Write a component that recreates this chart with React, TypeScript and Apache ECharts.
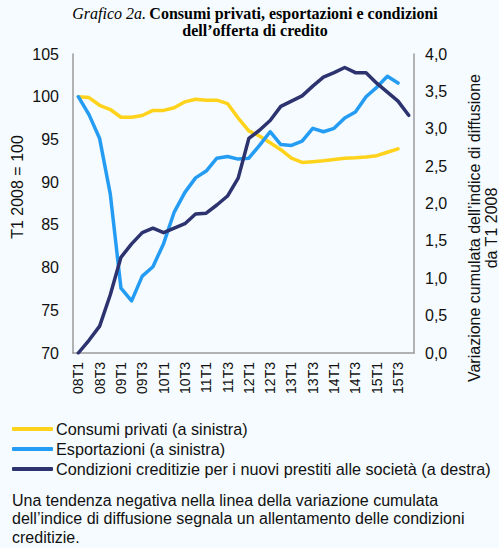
import React, { useEffect, useRef } from "react";
import * as echarts from "echarts";

const quarters: string[] = [];
for (let y = 8; y <= 15; y++) {
  for (let q = 1; q <= 4; q++) quarters.push(String(y).padStart(2, "0") + "T" + q);
}

const consumi = [100, 99.9, 99.0, 98.5, 97.6, 97.6, 97.8, 98.4, 98.4, 98.7, 99.4, 99.7, 99.6, 99.6, 99.2, 97.5,
  96.0, 95.4, 94.6, 93.8, 92.8, 92.3, 92.4, 92.5, 92.65, 92.8, 92.85, 92.95, 93.1, 93.5, 93.9, null];
const esportazioni = [100, 97.9, 95.1, 88.6, 77.6, 76.1, 79.0, 80.1, 82.8, 86.5, 88.8, 90.5, 91.3, 92.8, 93.0, 92.7,
  92.8, 94.3, 95.9, 94.4, 94.3, 94.8, 96.3, 95.9, 96.3, 97.5, 98.2, 100.0, 101.1, 102.4, 101.6, null];
const condizioni = [0, 0.17, 0.36, 0.78, 1.28, 1.46, 1.61, 1.67, 1.61, 1.67, 1.73, 1.86, 1.87, 1.98, 2.10, 2.34,
  2.87, 2.98, 3.11, 3.30, 3.37, 3.44, 3.57, 3.69, 3.75, 3.82, 3.75, 3.75, 3.61, 3.49, 3.37, 3.18];

const seriesNames = [
  "Consumi privati (a sinistra)",
  "Esportazioni (a sinistra)",
  "Condizioni creditizie per i nuovi prestiti alle società (a destra)",
];
const colors = ["#ffd31c", "#259cf4", "#2c336f"];

const SANS = "'Liberation Sans', Arial, sans-serif";
const SERIF = "'Liberation Serif', 'Times New Roman', serif";
const TXT = "#111";

export default function App() {
  const ref = useRef<HTMLDivElement>(null);
  useEffect(() => {
    if (!ref.current) return;
    const chart = echarts.init(ref.current, undefined, { renderer: "svg" });
    const axisLineStyle = { lineStyle: { color: "#9a9a9a", width: 1.5 } };
    chart.setOption({
      animation: false,
      backgroundColor: "#f5fbfe",
      textStyle: { fontFamily: SANS },
      grid: { left: 73, right: 85, top: 54, bottom: 195 },
      legend: {
        orient: "vertical",
        left: 12,
        top: 421,
        padding: 0,
        itemGap: 4,
        itemWidth: 41,
        itemHeight: 4,
        icon: "roundRect",
        data: seriesNames,
        textStyle: { fontSize: 16.2, color: TXT, fontFamily: SANS, padding: [0, 0, 0, -2] },
      },
      xAxis: {
        type: "category",
        data: quarters,
        boundaryGap: true,
        axisLine: axisLineStyle,
        axisTick: { show: false },
        axisLabel: { rotate: 90, interval: 1, fontSize: 14, color: TXT, margin: 9, fontFamily: SANS },
      },
      yAxis: [
        {
          type: "value",
          min: 70,
          max: 105,
          interval: 5,
          position: "left",
          axisLine: { show: true, ...axisLineStyle },
          axisTick: { show: false },
          splitLine: { show: false },
          axisLabel: { fontSize: 16, color: TXT, margin: 14, fontFamily: SANS },
        },
        {
          type: "value",
          min: 0,
          max: 4,
          interval: 0.5,
          position: "right",
          axisLine: { show: true, ...axisLineStyle },
          axisTick: { show: false },
          splitLine: { show: false },
          axisLabel: {
            fontSize: 16,
            color: TXT,
            margin: 11,
            fontFamily: SANS,
            formatter: (v: number) => v.toFixed(1).replace(".", ","),
          },
        },
      ],
      series: [
        { name: seriesNames[0], type: "line", data: consumi, yAxisIndex: 0 },
        { name: seriesNames[1], type: "line", data: esportazioni, yAxisIndex: 0 },
        { name: seriesNames[2], type: "line", data: condizioni, yAxisIndex: 1 },
      ].map((s, i) => ({
        ...s,
        color: colors[i],
        showSymbol: false,
        symbol: "none",
        lineStyle: { width: 3.5, color: colors[i], cap: "round", join: "round" },
      })),
      graphic: [
        {
          type: "text",
          x: 255,
          y: 5,
          style: {
            text: "{i|Grafico 2a.} {b|Consumi privati, esportazioni e condizioni}\n{b|dell’offerta di credito}",
            align: "center",
            verticalAlign: "top",
            fill: "#000",
            lineHeight: 17,
            rich: {
              i: { fontFamily: SERIF, fontStyle: "italic", fontSize: 16, fill: "#000", lineHeight: 17 },
              b: { fontFamily: SERIF, fontWeight: "bold", fontSize: 16, fill: "#000", lineHeight: 17 },
            },
          },
        },
        {
          type: "text",
          x: 17.5,
          y: 187,
          rotation: Math.PI / 2,
          style: {
            text: "T1 2008 = 100",
            align: "center",
            verticalAlign: "middle",
            fontSize: 16,
            fontFamily: SANS,
            fill: TXT,
          },
        },
        {
          type: "text",
          x: 482.5,
          y: 228,
          rotation: Math.PI / 2,
          style: {
            text: "Variazione cumulata dell’indice di diffusione\nda T1 2008",
            align: "center",
            verticalAlign: "middle",
            fontSize: 16,
            lineHeight: 17,
            fontFamily: SANS,
            fill: TXT,
          },
        },
        {
          type: "text",
          x: 12,
          y: 491,
          style: {
            text:
              "Una tendenza negativa nella linea della variazione cumulata\ndell’indice di diffusione segnala un allentamento delle condizioni\ncreditizie.",
            align: "left",
            verticalAlign: "top",
            fontSize: 16,
            lineHeight: 18.5,
            fontFamily: SANS,
            fill: TXT,
          },
        },
      ],
    });
    return () => chart.dispose();
  }, []);
  return (
    <div
      ref={ref}
      style={{ position: "absolute", left: 0, top: 0, width: 499, height: 548 }}
    />
  );
}
